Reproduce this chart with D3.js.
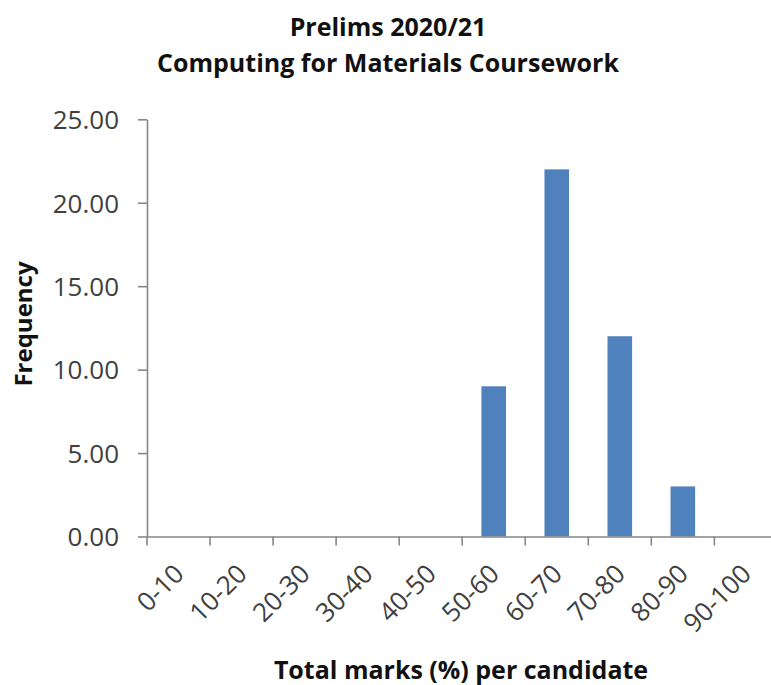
<!DOCTYPE html>
<html>
<head>
<meta charset="utf-8">
<script src="https://cdn.jsdelivr.net/npm/d3@7"></script>
<style>
  body { margin: 0; background: #fff; }
  svg { display: block; font-family: "Open Sans", sans-serif; }
</style>
</head>
<body>
<svg id="chart" width="771" height="685"></svg>
<script>
// Mark bands and number of candidates in each
const categories = ["0-10", "10-20", "20-30", "30-40", "40-50", "50-60", "60-70", "70-80", "80-90", "90-100"];
const frequency = [0, 0, 0, 0, 0, 9, 22, 12, 3, 0];
const yTicks = [0, 5, 10, 15, 20, 25];
const titleLines = ["Prelims 2020/21", "Computing for Materials Coursework"];
const xTitle = "Total marks (%) per candidate";
const yTitle = "Frequency";

const svg = d3.select("#chart");
const fontFamily = "'Open Sans', sans-serif";
const axisColor = "#868686";
const labelColor = "#404040";
const barColor = "#4F81BD";

const x = d3.scaleBand()
  .domain(categories)
  .range([147, 777.4])
  .paddingInner(0.61)
  .paddingOuter(0.305);

const y = d3.scaleLinear()
  .domain([0, 25])
  .range([536.5, 119.3]);

// Bars
svg.append("g")
  .selectAll("rect")
  .data(categories.map((c, i) => ({ c, v: frequency[i] })))
  .join("rect")
  .attr("x", d => x(d.c))
  .attr("width", x.bandwidth())
  .attr("y", d => y(d.v))
  .attr("height", d => y(0) - y(d.v))
  .attr("fill", barColor);

// Y axis
const yAxis = svg.append("g")
  .attr("transform", "translate(147,0)")
  .call(d3.axisLeft(y).tickValues(yTicks).tickFormat(d3.format(".2f"))
    .tickSize(9).tickSizeOuter(0).tickPadding(19))
  .attr("font-family", fontFamily);
yAxis.select(".domain").attr("stroke", axisColor).attr("stroke-width", 1.6);
yAxis.selectAll(".tick line").attr("stroke", axisColor).attr("stroke-width", 1.6);
yAxis.selectAll(".tick text")
  .attr("dy", "0.36em")
  .attr("fill", labelColor)
  .style("font-size", "26px");

// X axis with rotated category labels
const xAxis = svg.append("g")
  .attr("transform", `translate(0,${y(0)})`)
  .call(d3.axisBottom(x).tickSize(0).tickSizeOuter(0).tickPadding(0))
  .attr("font-family", fontFamily);
xAxis.select(".domain").attr("stroke", axisColor).attr("stroke-width", 1.6);
xAxis.selectAll(".tick text")
  .attr("y", 0)
  .attr("dy", 0)
  .attr("text-anchor", "end")
  .attr("transform", "translate(7,39) rotate(-45)")
  .attr("fill", labelColor)
  .style("font-size", "26px");

// Tick marks sit on the band boundaries
const boundaries = categories.map(c => x(c) - x.step() * x.paddingOuter());
boundaries.push(x.range()[1]);
xAxis.append("g")
  .selectAll("line")
  .data(boundaries)
  .join("line")
  .attr("x1", d => d).attr("x2", d => d)
  .attr("y1", 0).attr("y2", 9)
  .attr("stroke", axisColor)
  .attr("stroke-width", 1.6);

// Titles
svg.append("text")
  .attr("text-anchor", "middle")
  .style("font-size", "25px")
  .style("font-weight", "bold")
  .attr("fill", "#111")
  .selectAll("tspan")
  .data(titleLines)
  .join("tspan")
  .attr("x", 388)
  .attr("y", (d, i) => 36 + i * 35.7)
  .text(d => d);

svg.append("text")
  .attr("x", 461)
  .attr("y", 679)
  .attr("text-anchor", "middle")
  .style("font-size", "25px")
  .style("font-weight", "bold")
  .attr("fill", "#111")
  .text(xTitle);

svg.append("text")
  .attr("transform", "translate(32,324) rotate(-90)")
  .attr("text-anchor", "middle")
  .style("font-size", "24px")
  .style("font-weight", "bold")
  .attr("fill", "#111")
  .text(yTitle);
</script>
</body>
</html>
